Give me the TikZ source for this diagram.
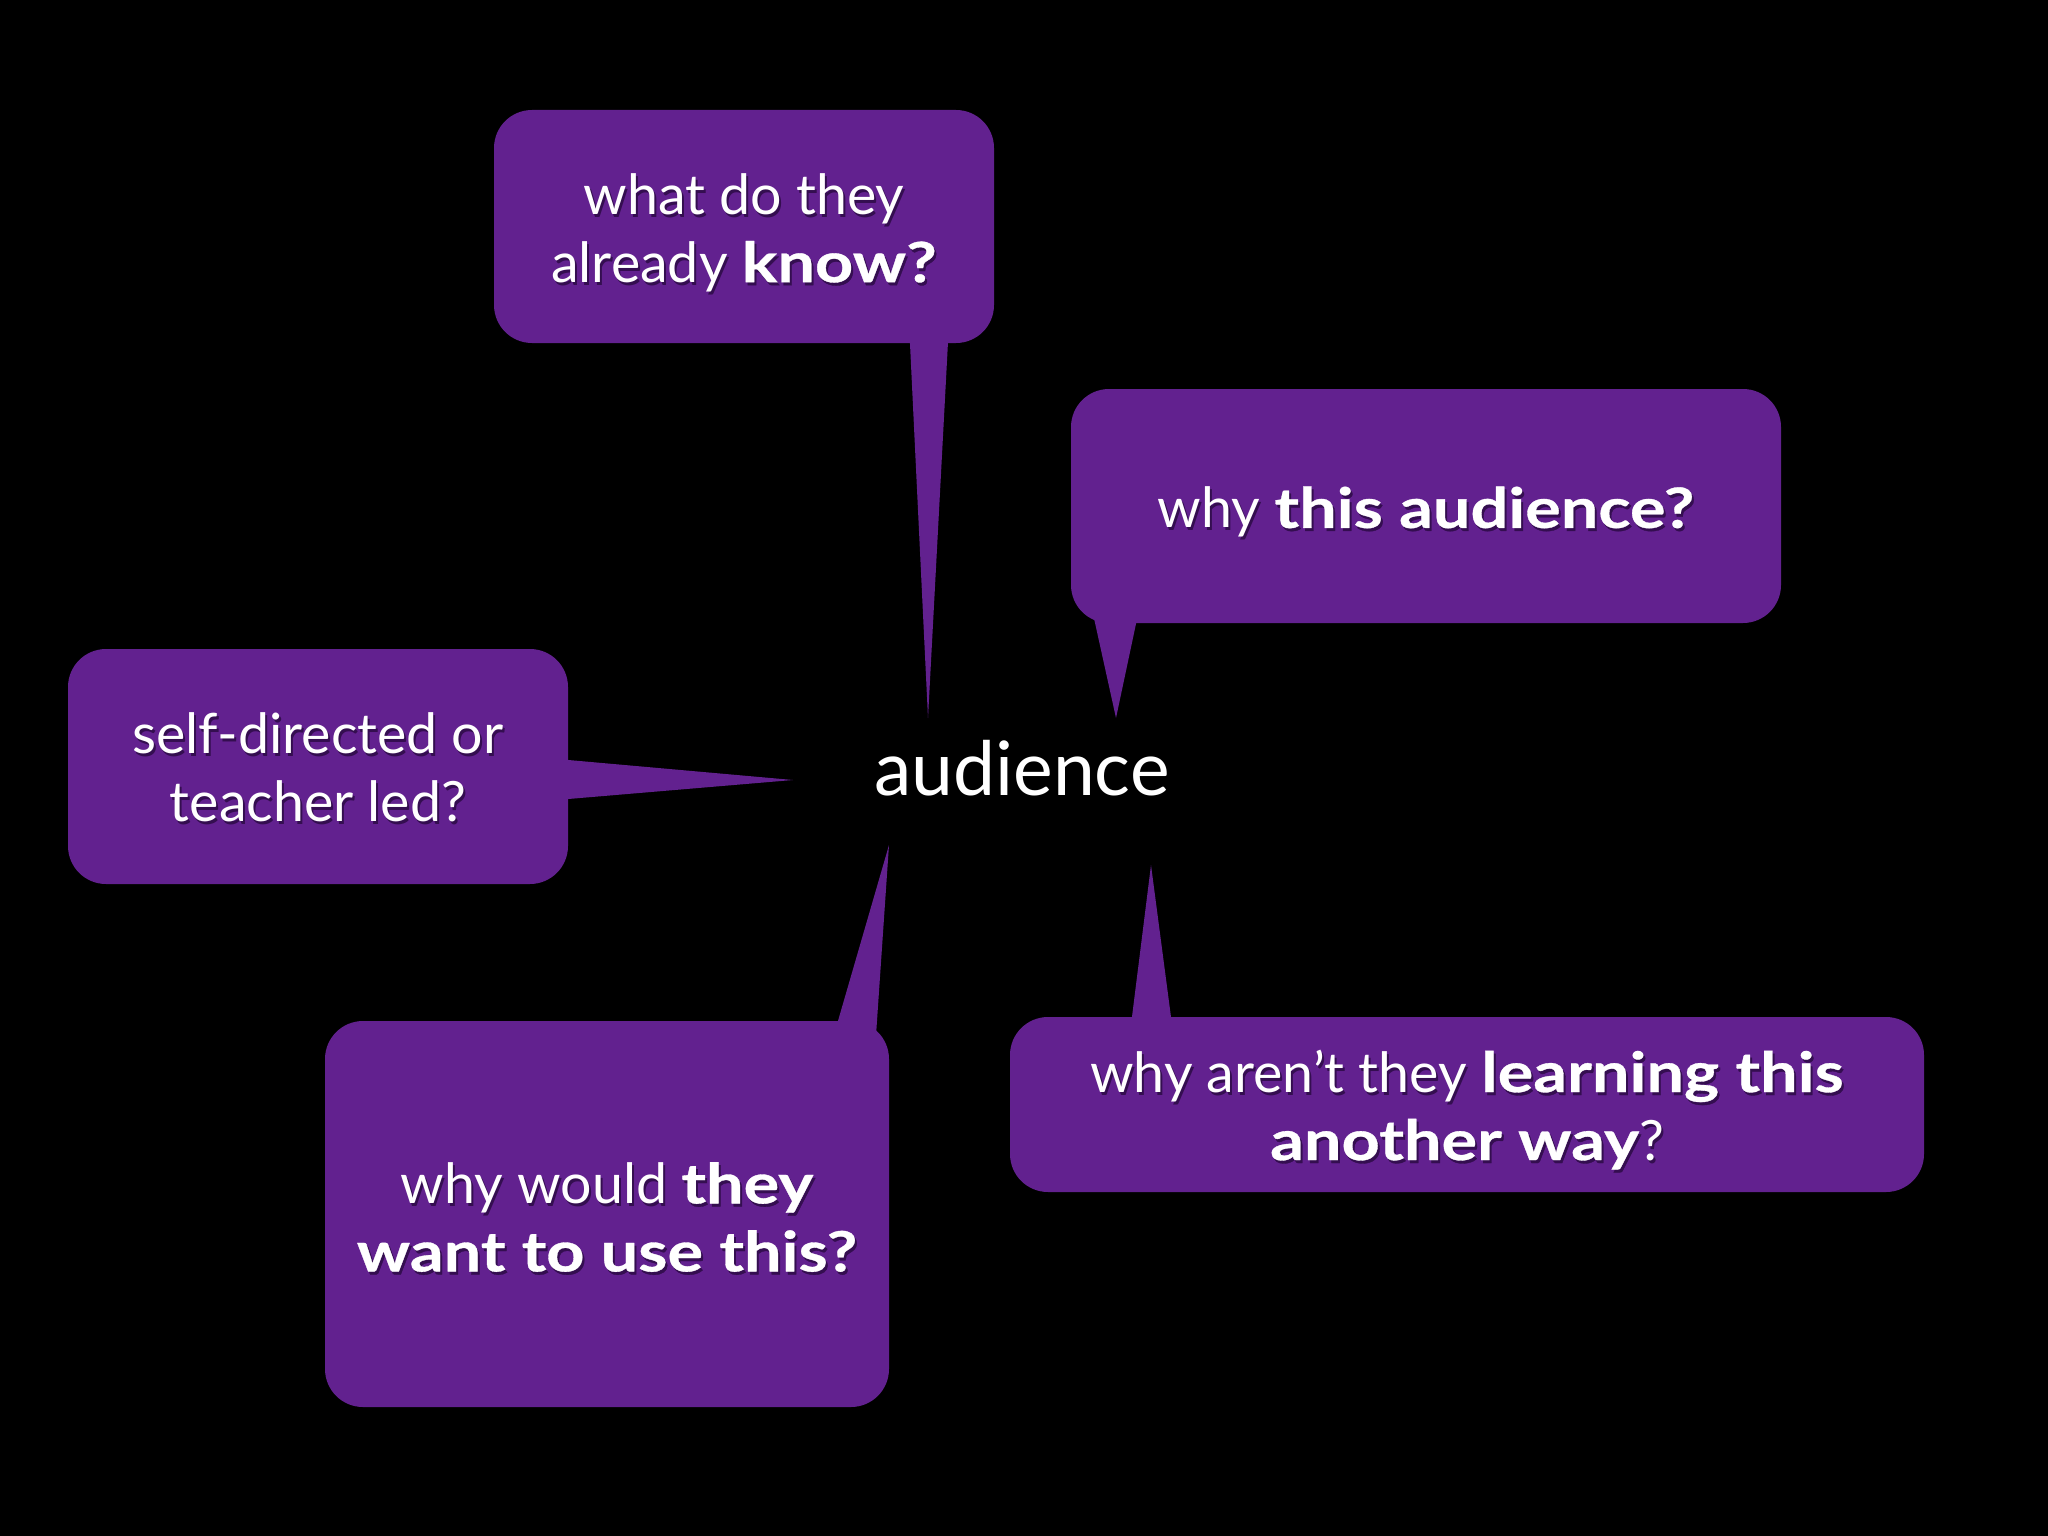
\documentclass[tikz,border=0pt]{standalone}
\usepackage{fontspec}
\setmainfont{Lato}[BoldFeatures={FakeStretch=1.2,FakeBold=0.6}]
\definecolor{bubblecol}{RGB}{98,33,143}
\definecolor{shadowcol}{RGB}{52,14,80}
\begin{document}
\begin{tikzpicture}[x=1pt,y=-1pt,
  bubble/.style={fill=bubblecol, rounded corners=38pt, inner sep=0pt},
  qtext/.style={inner sep=0pt, text=white, align=center, font=\fontsize{55.5}{68}\selectfont},
  qshadow/.style={qtext, text=shadowcol},
  ptr/.style={fill=bubblecol},
  center/.style={text=white, inner sep=0pt, font=\fontsize{75}{90}\selectfont}]
\fill[black] (0,0) rectangle (2048,1536);
\useasboundingbox (0,0) rectangle (2048,1536);

% bubbles
\node[bubble, minimum width=500pt, minimum height=233pt] (b1) at (744,226.5) {};
\node[bubble, minimum width=710pt, minimum height=234pt] (b2) at (1426,506) {};
\node[bubble, minimum width=500pt, minimum height=235pt] (b3) at (318,766.5) {};
\node[bubble, minimum width=564pt, minimum height=386pt] (b4) at (607,1214) {};
\node[bubble, minimum width=914pt, minimum height=175pt] (b5) at (1467,1104.5) {};

% pointer tips
\coordinate (t1) at (928,718);
\coordinate (t2) at (1116,718);
\coordinate (t3) at (793,780);
\coordinate (t4) at (889,845);
\coordinate (t5) at (1151,865);

% pointers
\fill[ptr] ([xshift=165pt,yshift=20pt]b1.south) -- (t1) -- ([xshift=205pt,yshift=20pt]b1.south) -- cycle;
\fill[ptr] ([xshift=-336pt,yshift=23pt]b2.south) -- (t2) -- ([xshift=-285pt,yshift=23pt]b2.south) -- cycle;
\fill[ptr] ([xshift=-20pt,yshift=8.3pt]b3.east) -- (t3) -- ([xshift=-20pt,yshift=-34.2pt]b3.east) -- cycle;
\fill[ptr] ([xshift=225.5pt,yshift=-19pt]b4.north) -- (t4) -- ([xshift=268.7pt,yshift=-19pt]b4.north) -- cycle;
\fill[ptr] ([xshift=-337.5pt,yshift=-20pt]b5.north) -- (t5) -- ([xshift=-293.4pt,yshift=-20pt]b5.north) -- cycle;

% text shadows
\node[qshadow] at ([xshift=2pt,yshift=-9pt]b1.center) {what do they\\already \textbf{know?}};
\node[qshadow] at ([xshift=2pt,yshift=-9pt]b2.center) {why \textbf{this audience?}};
\node[qshadow] at ([xshift=2pt,yshift=-4pt]b3.center) {self-directed or\\teacher led?};
\node[qshadow] at ([xshift=2pt,yshift=-6pt]b4.center) {why would \textbf{they}\\\textbf{want to use this?}};
\node[qshadow] at ([xshift=2pt,yshift=-8pt]b5.center) {why aren’t they \textbf{learning this}\\\textbf{another way}?};

% texts
\node[qtext] (q1) at ([yshift=-6pt]b1.center) {what do they\\already \textbf{know?}};
\node[qtext] (q2) at ([yshift=-6pt]b2.center) {why \textbf{this audience?}};
\node[qtext] (q3) at ([yshift=-1pt]b3.center) {self-directed or\\teacher led?};
\node[qtext] (q4) at ([yshift=-3pt]b4.center) {why would \textbf{they}\\\textbf{want to use this?}};
\node[qtext] (q5) at ([yshift=-5pt]b5.center) {why aren’t they \textbf{learning this}\\\textbf{another way}?};

% centre
\node[center, anchor=base] (aud) at (1022,795) {audience};
\end{tikzpicture}
\end{document}
